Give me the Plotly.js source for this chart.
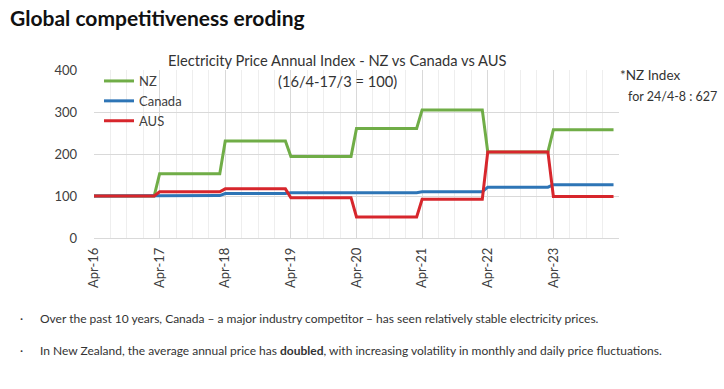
<!DOCTYPE html>
<html>
<head>
<meta charset="utf-8">
<script src="https://cdn.plot.ly/plotly-3.0.1.min.js"></script>
<style>html,body{margin:0;padding:0;background:#fff;}#chart{width:724px;height:389px;}</style>
</head>
<body>
<div id="chart"></div>
<script>
// Monthly index values, Apr-16 .. Mar-24 (16/4-17/3 = 100)
const nzValues = [
  100,100,100,100,100,100,100,100,100,100,100,100,
  153,153,153,153,153,153,153,153,153,153,153,153,
  231,231,231,231,231,231,231,231,231,231,231,231,
  194,194,194,194,194,194,194,194,194,194,194,194,
  261,261,261,261,261,261,261,261,261,261,261,261,
  305,305,305,305,305,305,305,305,305,305,305,305,
  205,205,205,205,205,205,205,205,205,205,205,205,
  258,258,258,258,258,258,258,258,258,258,258,258
];
const canadaValues = [
  100,100,100,100,100,100,100,100,100,100,100,100,
  101,101,101,101,101,101,101,101,101,101,101,101,
  106,106,106,106,106,106,106,106,106,106,106,106,
  108,108,108,108,108,108,108,108,108,108,108,108,
  108,108,108,108,108,108,108,108,108,108,108,108,
  110,110,110,110,110,110,110,110,110,110,110,110,
  121,121,121,121,121,121,121,121,121,121,121,121,
  127,127,127,127,127,127,127,127,127,127,127,127
];
const ausValues = [
  100,100,100,100,100,100,100,100,100,100,100,100,
  110,110,110,110,110,110,110,110,110,110,110,110,
  117,117,117,117,117,117,117,117,117,117,117,117,
  96,96,96,96,96,96,96,96,96,96,96,96,
  50,50,50,50,50,50,50,50,50,50,50,50,
  92,92,92,92,92,92,92,92,92,92,92,92,
  205,205,205,205,205,205,205,205,205,205,205,205,
  99,99,99,99,99,99,99,99,99,99,99,99
];
const tickLabels = ["Apr-16","Apr-17","Apr-18","Apr-19","Apr-20","Apr-21","Apr-22","Apr-23"];
const tickPositions = [0,12,24,36,48,60,72,84];
const monthIndex = nzValues.map((_, i) => i);

const FONT = "Lato, 'Open Sans', sans-serif";
const traces = [
  {x: monthIndex, y: nzValues, name: "NZ", type: "scatter", mode: "lines",
   line: {color: "#70AD47", width: 3}},
  {x: monthIndex, y: canadaValues, name: "Canada", type: "scatter", mode: "lines",
   line: {color: "#2E75B6", width: 3}},
  {x: monthIndex, y: ausValues, name: "AUS", type: "scatter", mode: "lines",
   line: {color: "#D7262C", width: 3}}
];

const L = 94, R = 619, T = 70, B = 238;
const px = v => (v - L) / (R - L);
const py = v => (B - v) / (B - T);

const layout = {
  width: 724, height: 389,
  paper_bgcolor: "#ffffff", plot_bgcolor: "#ffffff",
  margin: {l: L, r: 724 - R, t: T, b: 389 - B, pad: 0},
  font: {family: FONT, color: "#404040"},
  title: {text: "Global competitiveness eroding", x: 10/724, xanchor: "left", xref: "container",
          y: 1 - 19/389, yanchor: "middle", yref: "container",
          font: {family: FONT, size: 21, weight: 700, color: "#111111"}},
  showlegend: true,
  legend: {x: px(99), y: py(66), xanchor: "left", yanchor: "top", bgcolor: "rgba(255,255,255,0)",
           font: {family: FONT, size: 13, color: "#404040"}, tracegroupgap: 0, itemwidth: 30},
  xaxis: {range: [0, 96], tickmode: "array", tickvals: tickPositions, ticktext: tickLabels,
          tickangle: -90, tickfont: {family: FONT, size: 13, color: "#404040"},
          showgrid: true, gridcolor: "#d9d9d9", gridwidth: 1, zeroline: false, showline: false,
          ticks: "", ticklabelstandoff: 6,
          minor: {tickmode: "linear", tick0: 0, dtick: 3, showgrid: true, gridcolor: "#eeeeee", gridwidth: 1}},
  yaxis: {range: [0, 400], dtick: 100, tick0: 0, showgrid: true, gridcolor: "#d9d9d9", gridwidth: 1,
          zeroline: true, zerolinecolor: "#d9d9d9", zerolinewidth: 1, showline: false,
          tickfont: {family: FONT, size: 13, color: "#404040"}, ticks: "", ticklabelstandoff: 16},
  annotations: [
    {text: "Electricity Price Annual Index - NZ vs Canada vs AUS", xref: "paper", yref: "paper",
     x: px(337), y: py(60), xanchor: "center", yanchor: "middle", showarrow: false,
     font: {family: FONT, size: 14.7, color: "#333333"}},
    {text: "(16/4-17/3 = 100)", xref: "paper", yref: "paper",
     x: px(337), y: py(81), xanchor: "center", yanchor: "middle", showarrow: false,
     font: {family: FONT, size: 14.7, color: "#333333"}},
    {text: "*NZ Index", xref: "paper", yref: "paper",
     x: px(618), y: py(75), xanchor: "left", yanchor: "middle", showarrow: false,
     font: {family: FONT, size: 13.5, color: "#333333"}},
    {text: "for 24/4-8 : 627", xref: "paper", yref: "paper",
     x: px(626), y: py(96), xanchor: "left", yanchor: "middle", showarrow: false,
     font: {family: FONT, size: 12.5, color: "#333333"}},
    {text: "·", xref: "paper", yref: "paper",
     x: px(18), y: py(318), xanchor: "left", yanchor: "middle", showarrow: false,
     font: {family: FONT, size: 12, color: "#333333"}},
    {text: "Over the past 10 years, Canada – a major industry competitor – has seen relatively stable electricity prices.",
     xref: "paper", yref: "paper", x: px(38), y: py(318), xanchor: "left", yanchor: "middle", showarrow: false,
     font: {family: FONT, size: 12, color: "#333333"}},
    {text: "·", xref: "paper", yref: "paper",
     x: px(18), y: py(350), xanchor: "left", yanchor: "middle", showarrow: false,
     font: {family: FONT, size: 12, color: "#333333"}},
    {text: "In New Zealand, the average annual price has <b>doubled</b>, with increasing volatility in monthly and daily price fluctuations.",
     xref: "paper", yref: "paper", x: px(38), y: py(350), xanchor: "left", yanchor: "middle", showarrow: false,
     font: {family: FONT, size: 12, color: "#333333"}}
  ]
};

Plotly.newPlot("chart", traces, layout, {displayModeBar: false, staticPlot: true});
</script>
</body>
</html>
